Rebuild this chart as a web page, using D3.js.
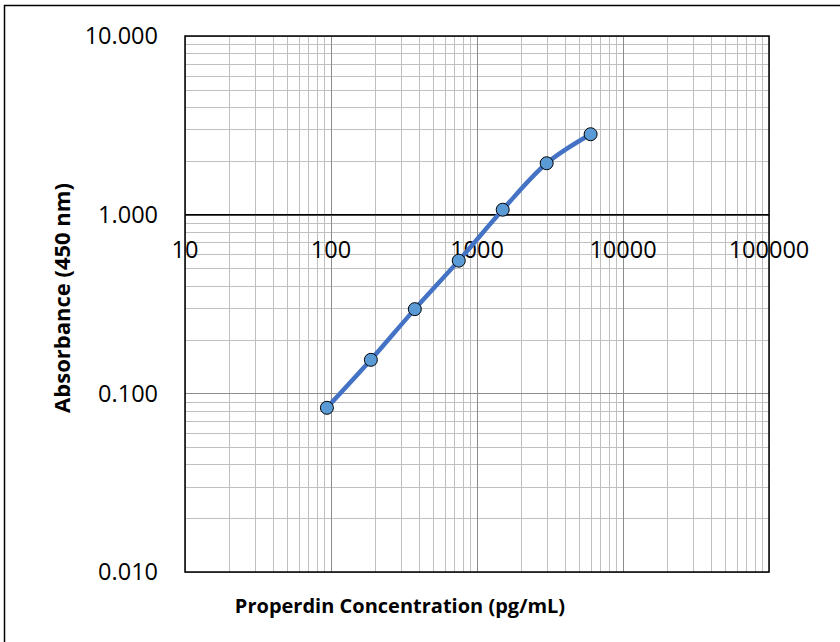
<!DOCTYPE html>
<html><head><meta charset="utf-8">
<script src="https://cdn.jsdelivr.net/npm/d3@7"></script>
<style>body{margin:0;background:#fff;} svg{display:block;}</style>
</head><body>
<svg id="c" width="840" height="642"></svg>
<script>
const concentrations = [93.75, 187.5, 375, 750, 1500, 3000, 6000];
const absorbance = [0.083, 0.154, 0.296, 0.553, 1.066, 1.94, 2.82];
const xTickValues = [10, 100, 1000, 10000, 100000];
const xTickLabels = ["10", "100", "1000", "10000", "100000"];
const yTickValues = [0.01, 0.1, 1, 10];
const yTickLabels = ["0.010", "0.100", "1.000", "10.000"];
const xTitle = "Properdin Concentration (pg/mL)";
const yTitle = "Absorbance (450 nm)";

const svg = d3.select("#c");
const font = "'Open Sans', sans-serif";
const L = 185, R = 769, T = 36, B = 572;
const x = d3.scaleLog().domain([10, 100000]).range([L, R]);
const y = d3.scaleLog().domain([0.01, 10]).range([B, T]);

// outer border
svg.append("rect").attr("x", 4.5).attr("y", 5.5).attr("width", 900).attr("height", 900)
  .attr("fill", "none").attr("stroke", "#000").attr("stroke-width", 1.5);

// minor grid
const minorX = [], minorY = [];
for (let d = 10; d < 100000; d *= 10) for (let k = 2; k <= 9; k++) minorX.push(d * k);
for (let d = 0.01; d < 10; d *= 10) for (let k = 2; k <= 9; k++) minorY.push(d * k);
const g = svg.append("g");
g.selectAll(".mx").data(minorX).join("line")
  .attr("x1", d => Math.round(x(d)) + 0.5).attr("x2", d => Math.round(x(d)) + 0.5)
  .attr("y1", T).attr("y2", B).attr("stroke", "#bfbfbf").attr("stroke-width", 1);
g.selectAll(".my").data(minorY).join("line")
  .attr("y1", d => Math.round(y(d)) + 0.5).attr("y2", d => Math.round(y(d)) + 0.5)
  .attr("x1", L).attr("x2", R).attr("stroke", "#bfbfbf").attr("stroke-width", 1);
// major grid
g.selectAll(".Mx").data(xTickValues).join("line")
  .attr("x1", d => Math.round(x(d)) + 0.5).attr("x2", d => Math.round(x(d)) + 0.5)
  .attr("y1", T).attr("y2", B).attr("stroke", "#8c8c8c").attr("stroke-width", 1);
g.selectAll(".My").data(yTickValues).join("line")
  .attr("y1", d => Math.round(y(d)) + 0.5).attr("y2", d => Math.round(y(d)) + 0.5)
  .attr("x1", L).attr("x2", R).attr("stroke", "#8c8c8c").attr("stroke-width", 1);

// plot border
svg.append("rect").attr("x", L).attr("y", T).attr("width", R - L).attr("height", B - T)
  .attr("fill", "none").attr("stroke", "#000").attr("stroke-width", 1.5);
// x axis crossing at 1.000
svg.append("line").attr("x1", L).attr("x2", R).attr("y1", y(1)).attr("y2", y(1))
  .attr("stroke", "#000").attr("stroke-width", 1.5);

// y tick labels
svg.append("g").selectAll("text").data(yTickValues).join("text")
  .attr("x", 158).attr("y", d => y(d)).attr("dy", "0.36em")
  .attr("text-anchor", "end").attr("font-family", font).attr("font-size", 23.5)
  .text((d, i) => yTickLabels[i]);
// x tick labels (axis crosses at y=1)
svg.append("g").selectAll("text").data(xTickValues).join("text")
  .attr("x", d => x(d)).attr("y", 258)
  .attr("text-anchor", "middle").attr("font-family", font).attr("font-size", 23.5)
  .text((d, i) => xTickLabels[i]);

// titles
svg.append("text").attr("x", 400).attr("y", 613).attr("text-anchor", "middle")
  .attr("font-family", font).attr("font-weight", "bold").attr("font-size", 20).text(xTitle);
svg.append("text").attr("transform", "translate(70,298) rotate(-90)").attr("text-anchor", "middle")
  .attr("font-family", font).attr("font-weight", "bold").attr("font-size", 22).text(yTitle);

// data line
const pts = concentrations.map((c, i) => [c, absorbance[i]]);
const line = d3.line().x(d => x(d[0])).y(d => y(d[1])).curve(d3.curveCatmullRom.alpha(0.5));
svg.append("path").datum(pts).attr("d", line).attr("fill", "none")
  .attr("stroke", "#4472C4").attr("stroke-width", 4.5).attr("stroke-linecap", "round");
svg.append("g").selectAll("circle").data(pts).join("circle")
  .attr("cx", d => x(d[0])).attr("cy", d => y(d[1])).attr("r", 6.5)
  .attr("fill", "#5B9BD5").attr("stroke", "#000").attr("stroke-width", 1);
</script>
</body></html>
